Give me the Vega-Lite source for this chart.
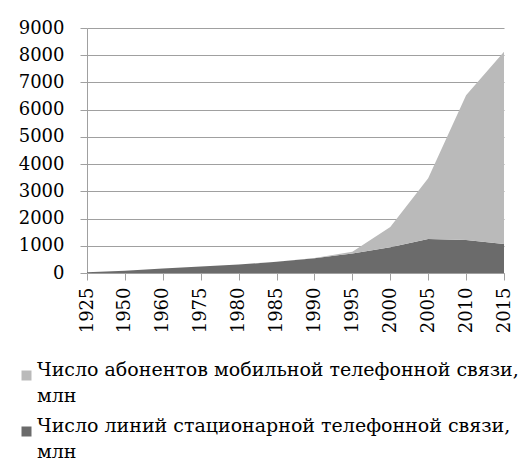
{
  "$schema": "https://vega.github.io/schema/vega-lite/v6.json",
  "width": 417,
  "height": 245,
  "autosize": {"type": "none"},
  "padding": {"left": 87, "top": 28, "right": 19, "bottom": 196},
  "background": "white",
  "config": {"view": {"stroke": null}, "style": {"guide-label": {"lineHeight": 26}}},
  "data": {
    "values": [
      {"year": "1925", "series": "fixed", "value": 30},
      {"year": "1950", "series": "fixed", "value": 85},
      {"year": "1960", "series": "fixed", "value": 165},
      {"year": "1975", "series": "fixed", "value": 240},
      {"year": "1980", "series": "fixed", "value": 315},
      {"year": "1985", "series": "fixed", "value": 410},
      {"year": "1990", "series": "fixed", "value": 540},
      {"year": "1995", "series": "fixed", "value": 720},
      {"year": "2000", "series": "fixed", "value": 950},
      {"year": "2005", "series": "fixed", "value": 1250},
      {"year": "2010", "series": "fixed", "value": 1210},
      {"year": "2015", "series": "fixed", "value": 1065},
      {"year": "1925", "series": "mobile", "value": 0},
      {"year": "1950", "series": "mobile", "value": 0},
      {"year": "1960", "series": "mobile", "value": 0},
      {"year": "1975", "series": "mobile", "value": 0},
      {"year": "1980", "series": "mobile", "value": 0},
      {"year": "1985", "series": "mobile", "value": 1},
      {"year": "1990", "series": "mobile", "value": 11},
      {"year": "1995", "series": "mobile", "value": 60},
      {"year": "2000", "series": "mobile", "value": 740},
      {"year": "2005", "series": "mobile", "value": 2230},
      {"year": "2010", "series": "mobile", "value": 5320},
      {"year": "2015", "series": "mobile", "value": 7060}
    ]
  },
  "mark": {"type": "area", "interpolate": "linear"},
  "encoding": {
    "x": {
      "field": "year",
      "type": "ordinal",
      "scale": {"type": "point", "padding": 0},
      "axis": {
        "title": null,
        "labelAngle": -90,
        "labelFont": "DejaVu Serif",
        "labelFontSize": 18,
        "labelColor": "black",
        "labelPadding": 7,
        "tickSize": 7,
        "tickColor": "#a0a0a0",
        "domainColor": "#a0a0a0",
        "grid": false
      }
    },
    "y": {
      "field": "value",
      "type": "quantitative",
      "stack": "zero",
      "scale": {"domain": [0, 9000], "nice": false},
      "axis": {
        "title": null,
        "format": "d",
        "values": [0, 1000, 2000, 3000, 4000, 5000, 6000, 7000, 8000, 9000],
        "labelFont": "DejaVu Serif",
        "labelFontSize": 18,
        "labelColor": "black",
        "labelPadding": 16,
        "tickSize": 7,
        "tickColor": "#a0a0a0",
        "domainColor": "#a0a0a0",
        "gridColor": "#a0a0a0",
        "grid": true
      }
    },
    "color": {
      "field": "series",
      "type": "nominal",
      "scale": {"domain": ["mobile", "fixed"], "range": ["#bababa", "#6b6b6b"]},
      "legend": {
        "title": null,
        "orient": "none",
        "legendX": -70,
        "legendY": 338,
        "padding": 0,
        "direction": "vertical",
        "symbolType": "square",
        "symbolSize": 100,
        "symbolStrokeWidth": 0,
        "symbolOpacity": 1,
        "labelFont": "DejaVu Serif",
        "labelFontSize": 19,
        "labelColor": "black",
        "labelLimit": 600,
        "labelOffset": 1,
        "labelBaseline": "alphabetic",
        "labelExpr": "datum.label == 'mobile' ? ['Число абонентов мобильной телефонной связи,', 'млн'] : ['Число линий стационарной телефонной связи,', 'млн']",
        "rowPadding": 10,
        "encoding": {
          "labels": {"update": {"lineHeight": {"value": 26}, "dy": {"value": 6}}}
        }
      }
    },
    "order": {"field": "series", "sort": "ascending"}
  }
}
